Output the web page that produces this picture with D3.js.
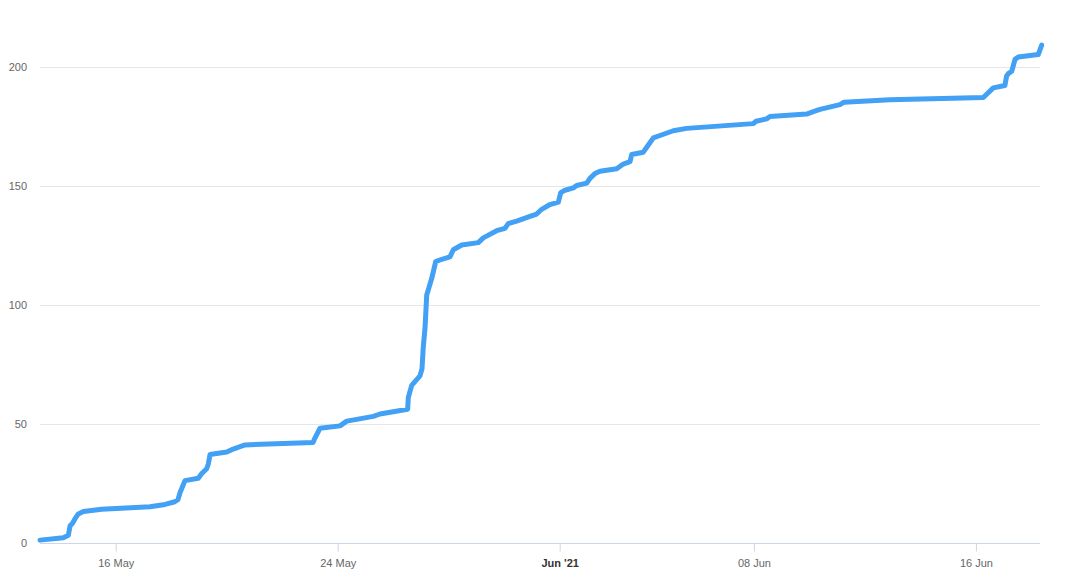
<!DOCTYPE html>
<html>
<head>
<meta charset="utf-8">
<script src="https://cdn.jsdelivr.net/npm/d3@7"></script>
<style>
  body { margin: 0; background: #fff; }
  .chart text { font-family: "Liberation Sans", Arial, sans-serif; }
</style>
</head>
<body>
<div class="chart"></div>
<script>
// cumulative count over time
const times = [
  "2021-05-13 06:30", "2021-05-14 02:40", "2021-05-14 07:00", "2021-05-14 08:30",
  "2021-05-14 10:30", "2021-05-14 12:50", "2021-05-14 15:40", "2021-05-14 20:00",
  "2021-05-15 11:50", "2021-05-17 05:40", "2021-05-17 18:40", "2021-05-18 02:25",
  "2021-05-18 05:50", "2021-05-18 07:40", "2021-05-18 11:55", "2021-05-18 23:25",
  "2021-05-19 02:25", "2021-05-19 06:40", "2021-05-19 08:05", "2021-05-19 09:35",
  "2021-05-20 00:00", "2021-05-20 04:20", "2021-05-20 15:50", "2021-05-23 02:40",
  "2021-05-23 04:25", "2021-05-23 08:40", "2021-05-24 02:00", "2021-05-24 07:50",
  "2021-05-25 06:50", "2021-05-25 12:35", "2021-05-26 12:30", "2021-05-26 13:05",
  "2021-05-26 16:00", "2021-05-26 23:10", "2021-05-27 00:55", "2021-05-27 02:00",
  "2021-05-27 03:30", "2021-05-27 05:00", "2021-05-27 09:20", "2021-05-27 12:45",
  "2021-05-27 18:00", "2021-05-28 01:05", "2021-05-28 04:00", "2021-05-28 11:15",
  "2021-05-29 01:35", "2021-05-29 05:55", "2021-05-29 17:30", "2021-05-30 00:40",
  "2021-05-30 03:30", "2021-05-30 10:50", "2021-05-30 22:20", "2021-05-31 04:05",
  "2021-05-31 08:25", "2021-05-31 15:35", "2021-05-31 22:50", "2021-06-01 00:55",
  "2021-06-01 04:35", "2021-06-01 11:50", "2021-06-01 14:40", "2021-06-01 23:25",
  "2021-06-02 02:10", "2021-06-02 06:30", "2021-06-02 10:50", "2021-06-03 01:20",
  "2021-06-03 07:00", "2021-06-03 12:50", "2021-06-03 14:15", "2021-06-04 00:20",
  "2021-06-04 04:40", "2021-06-04 09:00", "2021-06-04 14:45", "2021-06-05 02:15",
  "2021-06-05 13:50", "2021-06-07 23:25", "2021-06-08 01:50", "2021-06-08 11:00",
  "2021-06-08 13:55", "2021-06-09 21:35", "2021-06-10 03:25", "2021-06-10 09:10",
  "2021-06-11 02:25", "2021-06-11 05:55", "2021-06-12 21:40", "2021-06-16 06:25",
  "2021-06-16 10:40", "2021-06-16 15:00", "2021-06-17 01:05", "2021-06-17 02:35",
  "2021-06-17 04:00", "2021-06-17 07:00", "2021-06-17 09:50", "2021-06-17 12:40",
  "2021-06-18 05:55", "2021-06-18 08:55"
];
const counts = [
  1, 2, 3, 7,
  8, 10, 12, 13,
  14, 15, 16, 17,
  18, 21, 26, 27,
  29, 31, 33, 37,
  38, 39, 41, 42,
  44, 48, 49, 51,
  53, 54, 56, 61,
  66, 70, 73, 82,
  90, 104, 111, 118,
  119, 120, 123, 125,
  126, 128, 131, 132,
  134, 135, 137, 138,
  140, 142, 143, 147,
  148, 149, 150, 151,
  153, 155, 156, 157,
  159, 160, 163, 164,
  167, 170, 171, 173,
  174, 176, 177, 178,
  179, 180, 181, 182,
  184, 185, 186, 187,
  189, 191, 192, 196,
  197, 198, 203, 204,
  205, 209
];
const xTickDates = ["2021-05-16", "2021-05-24", "2021-06-01", "2021-06-08", "2021-06-16"];
const xTickLabels = ["16 May", "24 May", "Jun '21", "08 Jun", "16 Jun"];
const yTicks = [0, 50, 100, 150, 200];

const w = 1080;
const h = 581;
const left = 40, right = 1041.7;
const bottom = 542.5, top200 = 66.5;

const parseTime = d3.timeParse("%Y-%m-%d %H:%M");
const parseDay = d3.timeParse("%Y-%m-%d");
const data = times.map((t, i) => ({ t: parseTime(t), v: counts[i] }));

const svg = d3.select(".chart")
              .append("svg")
              .attr("width", w)
              .attr("height", h);

const xScale = d3.scaleTime()
                 .domain(d3.extent(data, d => d.t))
                 .range([left, right]);

const yScale = d3.scaleLinear()
                 .domain([0, 200])
                 .range([bottom, top200]);

// horizontal grid
svg.append("g")
   .selectAll("line")
   .data(yTicks.filter(d => d > 0))
   .enter()
   .append("line")
   .attr("x1", left)
   .attr("x2", 1040)
   .attr("y1", d => Math.round(yScale(d)) + 0.5)
   .attr("y2", d => Math.round(yScale(d)) + 0.5)
   .attr("stroke", "#e6e6e6");

// y labels
svg.append("g")
   .selectAll("text")
   .data(yTicks)
   .enter()
   .append("text")
   .attr("x", 27)
   .attr("y", d => yScale(d) + 4)
   .attr("text-anchor", "end")
   .attr("font-size", "11px")
   .attr("fill", "#666")
   .text(d => d);

// x axis
const xAxis = d3.axisBottom(xScale)
                .tickValues(xTickDates.map(parseDay))
                .tickSize(8)
                .tickPadding(8)
                .tickFormat((d, i) => xTickLabels[i]);

const gx = svg.append("g")
   .attr("transform", "translate(0," + (Math.round(bottom) + 0.5) + ")")
   .call(xAxis);

gx.select(".domain").attr("d", "M" + left + ",0H1040").attr("stroke", "#ccd6eb");
gx.selectAll(".tick line").attr("stroke", "#ccd6eb");
gx.selectAll(".tick text")
  .attr("font-size", "11px")
  .attr("font-family", "'Liberation Sans', Arial, sans-serif")
  .attr("fill", "#666")
  .attr("font-weight", (d, i) => xTickLabels[i] === "Jun '21" ? "bold" : "normal")
  .attr("fill", (d, i) => xTickLabels[i] === "Jun '21" ? "#333" : "#666");

// the line
const line = d3.line()
               .x(d => xScale(d.t))
               .y(d => yScale(d.v));

svg.append("path")
   .datum(data)
   .attr("d", line)
   .attr("fill", "none")
   .attr("stroke", "#42a0f5")
   .attr("stroke-width", 5)
   .attr("stroke-linejoin", "round")
   .attr("stroke-linecap", "round");
</script>
</body>
</html>
